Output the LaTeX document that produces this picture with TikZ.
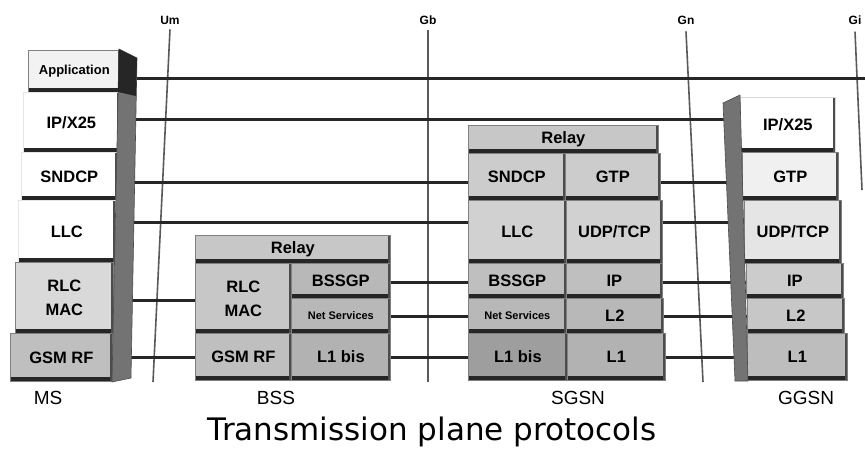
\documentclass[tikz,border=0pt]{standalone}
\usepackage{fontspec}
\setmainfont{Liberation Sans}
\newfontfamily\capfont{DejaVu Sans}
\newcommand\bxfont{\fontsize{16.5}{18}\selectfont\bfseries}
\newcommand\smfont{\fontsize{11}{12}\selectfont\bfseries}
\begin{document}
\begin{tikzpicture}[x=1pt,y=-1pt,
  lay/.style={anchor=north west, inner sep=1pt, draw=black!50, line width=0.7pt,
    align=center, font=\bxfont,
    path picture={
      \draw[line width=8pt,black!85] (path picture bounding box.south west) -- (path picture bounding box.south east);
      \draw[line width=4pt,black!70] (path picture bounding box.south east) -- (path picture bounding box.north east);}},
  peer/.style={line width=3pt, black!85},
  iface/.style={line width=1.6pt, black!65},
  ilab/.style={font=\fontsize{12}{14}\selectfont\bfseries, inner sep=1pt},
  elab/.style={font=\fontsize{19}{21}\selectfont, inner sep=1pt},
  panel/.style={fill=black!55, draw=black!70, line width=0.6pt}
]
\useasboundingbox[fill=white] (0,0) rectangle (865,451);

% level coordinates
\coordinate (lvApp) at (0,78);
\coordinate (lvIpx) at (0,119);
\coordinate (lvSnd) at (0,182);
\coordinate (lvLlc) at (0,222);
\coordinate (lvBss) at (0,282);
\coordinate (lvRlc) at (0,300);
\coordinate (lvNs) at (0,316);
\coordinate (lvRf) at (0,357);
\coordinate (rEdge) at (865,0);

% interfaces
\node[ilab] (um) at (170,20) {Um};
\node[ilab] (gb) at (428,20) {Gb};
\node[ilab] (gn) at (686,20) {Gn};
\node[ilab] (gi) at (855,20) {Gi};
\coordinate (umb) at (153,382);
\coordinate (gbb) at (428,382);
\coordinate (gnb) at (703,382);
\coordinate (gib) at (862,190);
\draw[iface] ([yshift=-4pt]um.south) -- (umb);
\draw[iface] ([yshift=-4pt]gb.south) -- (gbb);
\draw[iface] ([yshift=-6pt]gn.south) -- (gnb);
\draw[iface] ([yshift=-6pt]gi.south) -- (gib);

% MS
\node[lay, fill=black!5, font=\fontsize{13}{15}\selectfont\bfseries, minimum width=92, minimum height=42] (msapp) at (28,50) {Application};
\node[lay, fill=white, draw=black!10, minimum width=96, minimum height=60] (msipx) at (23,92) {IP/X25};
\node[lay, fill=white, draw=black!10, minimum width=96, minimum height=48] (mssnd) at (21,152) {SNDCP};
\node[lay, fill=white, draw=black!10, minimum width=97, minimum height=62] (msllc) at (18,200) {LLC};
\node[lay, fill=black!15, minimum width=98, minimum height=71] (msrlc) at (15,262) {RLC\\[6pt]MAC};
\node[lay, fill=black!25, minimum width=102, minimum height=48] (msrf) at (10,333) {GSM RF};

% BSS
\node[lay, fill=black!22, minimum width=195, minimum height=28] (bssrelay) at (195,235) {Relay};
\node[lay, fill=black!22, minimum width=96, minimum height=70] (bssrlc) at (195,263) {RLC\\[6pt]MAC};
\node[lay, fill=black!28, minimum width=99, minimum height=35] (bssgp) at (291,263) {BSSGP};
\node[lay, fill=black!28, font=\smfont, minimum width=99, minimum height=35] (bssns) at (291,298) {Net Services};
\node[lay, fill=black!25, minimum width=96, minimum height=47] (bssrf) at (195,333) {GSM RF};
\node[lay, fill=black!30, minimum width=99, minimum height=47] (bssl1) at (291,333) {L1 bis};

% SGSN
\node[lay, fill=black!22, minimum width=190, minimum height=28] (sgrelay) at (468,125) {Relay};
\node[lay, fill=black!20, minimum width=97, minimum height=47] (sgsnd) at (468,153) {SNDCP};
\node[lay, fill=black!20, minimum width=95, minimum height=47] (sggtp) at (565,153) {GTP};
\node[lay, fill=black!18, minimum width=98, minimum height=63] (sgllc) at (468,200) {LLC};
\node[lay, fill=black!18, minimum width=96, minimum height=63] (sgudp) at (566,200) {UDP/TCP};
\node[lay, fill=black!25, minimum width=98, minimum height=35] (sgbssgp) at (468,263) {BSSGP};
\node[lay, fill=black!25, minimum width=96, minimum height=35] (sgip) at (566,263) {IP};
\node[lay, fill=black!28, font=\smfont, minimum width=98, minimum height=35] (sgns) at (468,298) {Net Services};
\node[lay, fill=black!28, minimum width=97, minimum height=35] (sgl2) at (566,298) {L2};
\node[lay, fill=black!38, minimum width=99, minimum height=47] (sgl1b) at (468,333) {L1 bis};
\node[lay, fill=black!30, minimum width=98, minimum height=47] (sgl1) at (567,333) {L1};

% GGSN
\node[lay, fill=white, draw=black!15, minimum width=95, minimum height=55] (ggipx) at (740,97) {IP/X25};
\node[lay, fill=black!6, minimum width=96, minimum height=48] (gggtp) at (742,152) {GTP};
\node[lay, fill=black!10, minimum width=97, minimum height=63] (ggudp) at (744,200) {UDP/TCP};
\node[lay, fill=black!20, minimum width=97, minimum height=35] (ggip) at (746,263) {IP};
\node[lay, fill=black!22, minimum width=97, minimum height=35] (ggl2) at (747,298) {L2};
\node[lay, fill=black!26, minimum width=100, minimum height=47] (ggl1) at (747,333) {L1};

% peer connections
\draw[peer] (msapp.east |- lvApp) -- (rEdge |- lvApp);
\draw[peer] (msipx.east |- lvIpx) -- (ggipx.west |- lvIpx);
\draw[peer] (mssnd.east |- lvSnd) -- (sgsnd.west |- lvSnd);
\draw[peer] (sggtp.east |- lvSnd) -- (gggtp.west |- lvSnd);
\draw[peer] (msllc.east |- lvLlc) -- (sgllc.west |- lvLlc);
\draw[peer] (sgudp.east |- lvLlc) -- (ggudp.west |- lvLlc);
\draw[peer] (msrlc.east |- lvRlc) -- (bssrlc.west |- lvRlc);
\draw[peer] (bssgp.east |- lvBss) -- (sgbssgp.west |- lvBss);
\draw[peer] (sgip.east |- lvBss) -- (ggip.west |- lvBss);
\draw[peer] (bssns.east |- lvNs) -- (sgns.west |- lvNs);
\draw[peer] (sgl2.east |- lvNs) -- (ggl2.west |- lvNs);
\draw[peer] (msrf.east |- lvRf) -- (bssrf.west |- lvRf);
\draw[peer] (bssl1.east |- lvRf) -- (sgl1b.west |- lvRf);
\draw[peer] (sgl1.east |- lvRf) -- (ggl1.west |- lvRf);

% side panels
\draw[panel] (119,49) -- (137,58) -- (131,378) -- (112,382) -- cycle;
\fill[black!85] (119,49) -- (137,58) -- (136,96) -- (118,92) -- cycle;
\draw[panel] (723,103) -- (740,95) -- (748,381) -- (735,381) -- cycle;

% entity labels
\node[elab] (lms) at (48,398) {MS};
\node[elab] (lbss) at (276,398) {BSS};
\node[elab] (lsgsn) at (578,398) {SGSN};
\node[elab] (lggsn) at (806,398) {GGSN};
\node[font=\capfont\fontsize{31}{34}\selectfont, inner sep=0pt] (cap) at (432,432) {Transmission plane protocols};
\end{tikzpicture}
\end{document}
